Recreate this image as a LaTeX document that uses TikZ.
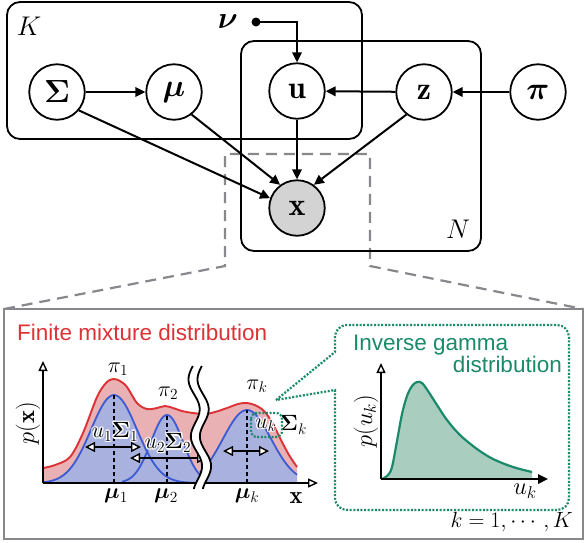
\RequirePackage{fix-cm}
\documentclass[tikz,border=0pt]{standalone}
\usepackage{amsmath,bm}
\usepackage{fontspec}
\newfontfamily\sansf{Liberation Sans}
\usetikzlibrary{arrows.meta,calc}
\definecolor{myred}{HTML}{DC3236}
\definecolor{pinkfill}{HTML}{E9B1B3}
\definecolor{myblue}{HTML}{3C5AD2}
\definecolor{bluefill}{HTML}{A9B2DE}
\definecolor{mygreen}{HTML}{1A8A6A}
\definecolor{greenfill}{HTML}{A9CDBF}
\definecolor{mygray}{HTML}{87878C}
\definecolor{xfill}{HTML}{D3D3D3}
\newcommand{\halo}[1]{%
\makebox[0pt][l]{\color{white}\hspace{-1.4pt}$#1$}%
\makebox[0pt][l]{\color{white}\hspace{1.4pt}$#1$}%
\makebox[0pt][l]{\color{white}\raisebox{1.4pt}{$#1$}}%
\makebox[0pt][l]{\color{white}\raisebox{-1.4pt}{$#1$}}%
\makebox[0pt][l]{\color{white}\hspace{1pt}\raisebox{1pt}{$#1$}}%
\makebox[0pt][l]{\color{white}\hspace{-1pt}\raisebox{1pt}{$#1$}}%
\makebox[0pt][l]{\color{white}\hspace{1pt}\raisebox{-1pt}{$#1$}}%
\makebox[0pt][l]{\color{white}\hspace{-1pt}\raisebox{-1pt}{$#1$}}%
$#1$}
\begin{document}
\begin{tikzpicture}[x=1pt,y=-1pt,
  vnode/.style={circle, draw, line width=1.8pt, fill=white, minimum size=55.5pt, inner sep=0pt, font=\fontsize{32}{32}\selectfont},
  edge/.style={line width=2pt, -{Triangle[length=10pt,width=9.5pt]}},
  plate/.style={draw, line width=1.8pt, rounded corners=13pt},
  lbl/.style={inner sep=0pt, font=\fontsize{22}{22}\selectfont},
  axlbl/.style={inner sep=0pt, font=\fontsize{24.5}{24.5}\selectfont},
  biglbl/.style={inner sep=0pt, font=\fontsize{27}{27}\selectfont},
  graydash/.style={draw=mygray, line width=2.2pt, dash pattern=on 11pt off 7pt},
  dblarrow/.style={line width=2pt, {Triangle[length=10pt,width=10pt,fill=white,line width=1.4pt]}-{Triangle[length=10pt,width=10pt,fill=white,line width=1.4pt]}},
  openaxis/.style={line width=1.8pt, -{Triangle[length=10pt,width=9pt,fill=white,line width=1.4pt]}},
  solidaxis/.style={line width=1.8pt, -{Triangle[length=10pt,width=9.5pt]}},
  greendot/.style={draw=mygreen, line width=2.2pt, dash pattern=on 2pt off 1.6pt},
  sanslbl/.style={inner sep=0pt, font=\sansf\fontsize{22.5}{22.5}\selectfont}
]
\useasboundingbox (0,0) rectangle (588,542);

% ---------- zoom connector (dashed) ----------
\draw[graydash] (4,309) -- (225,266) -- (225,154) -- (370,154) -- (370,266) -- (583,309);

% ---------- plates ----------
\draw[plate] (7,2) rectangle (362,139);
\draw[plate] (241,41) rectangle (481,251);
\node[biglbl] (Klbl) at (29,26) {$K$};
\node[biglbl] (Nlbl) at (458,229) {$N$};

% ---------- graph nodes ----------
\node[vnode] (S) at (57,92) {$\bm{\Sigma}$};
\node[vnode] (M) at (174,92) {$\bm{\mu}$};
\node[vnode] (U) at (297,91) {$\mathbf{u}$};
\node[vnode] (Z) at (424,92) {$\mathbf{z}$};
\node[vnode] (P) at (538,92) {$\bm{\pi}$};
\node[vnode, fill=xfill] (X) at (297,208) {$\mathbf{x}$};
\node[inner sep=0pt, font=\fontsize{31}{31}\selectfont] (nu) at (228,22) {$\bm{\nu}$};
\node[circle, fill, inner sep=0pt, minimum size=9pt] (nudot) at (256,22) {};

\draw[edge] (S) -- (M);
\draw[edge] (Z) -- (U);
\draw[edge] (P) -- (Z);
\draw[edge] (U) -- (X);
\draw[edge] (S.-40) -- (X.160);
\draw[edge] (M.-52) -- (X.126);
\draw[edge] (Z.-128) -- (X.54);
\draw[edge] (nudot.center) -| (U);

% ---------- bottom panel ----------
\draw[draw=mygray, line width=2.5pt] (4,309) rectangle (583,539);

\node[sanslbl, text=myred, anchor=base west] (title1) at (17,340) {Finite mixture distribution};

% mixture fill
\fill[pinkfill] plot[smooth, tension=0.55] coordinates {(43,468) (55,465) (70,457) (83,433) (97,397) (106,383) (113,379) (120,381) (127,387) (137,403) (147,409) (157,408) (165,406) (173,408) (182,411) (193,413) (205,414) (215,412) (227,408) (238,404) (247,403) (257,406) (265,412) (273,424) (281,440) (289,455) (297,467)} -- (297,483) -- (43,483) -- cycle;
% gaussian fills
\fill[bluefill] plot[domain=43:195, samples=70] (\x, {483-88*exp(-((\x-114)*(\x-114))/1058)}) -- (195,483) -- (43,483) -- cycle;
\fill[bluefill] plot[domain=122:205, samples=60] (\x, {483-68*exp(-((\x-167)*(\x-167))/512)}) -- (205,483) -- (122,483) -- cycle;
\fill[bluefill] plot[domain=200:297, samples=60] (\x, {483-73*exp(-((\x-247)*(\x-247))/1152)}) -- (297,483) -- (200,483) -- cycle;
% gaussian lines
\draw[myblue, line width=1.8pt] plot[domain=43:195, samples=70] (\x, {483-88*exp(-((\x-114)*(\x-114))/1058)});
\draw[myblue, line width=1.8pt] plot[domain=122:205, samples=60] (\x, {483-68*exp(-((\x-167)*(\x-167))/512)});
\draw[myblue, line width=1.8pt] plot[domain=200:297, samples=60] (\x, {483-73*exp(-((\x-247)*(\x-247))/1152)});
% mixture line
\draw[myred, line width=1.9pt] plot[smooth, tension=0.55] coordinates {(43,468) (55,465) (70,457) (83,433) (97,397) (106,383) (113,379) (120,381) (127,387) (137,403) (147,409) (157,408) (165,406) (173,408) (182,411) (193,413) (205,414) (215,412) (227,408) (238,404) (247,403) (257,406) (265,412) (273,424) (281,440) (289,455) (297,467)};
% mean lines
\draw[line width=1.1pt, dash pattern=on 4pt off 3pt] (114,483) -- (114,395);
\draw[line width=1.1pt, dash pattern=on 4pt off 3pt] (167,483) -- (167,415);
\draw[line width=1.1pt, dash pattern=on 4pt off 3pt] (247,483) -- (247,410);
% width arrows
\coordinate (a1l) at (85,447); \coordinate (a1r) at (141,447);
\coordinate (a2l) at (130,458); \coordinate (a2r) at (207,458);
\coordinate (akl) at (223,451); \coordinate (akr) at (269,451);
\draw[dblarrow] (a1l) -- (a1r);
\draw[dblarrow] (a2l) -- (a2r);
\draw[dblarrow] (akl) -- (akr);
% axes
\coordinate (O1) at (43,483);
\coordinate (Y1) at (43,361);
\coordinate (X1) at (318,483);
\draw[openaxis] (O1) -- (Y1);
\draw[openaxis] (O1) -- (X1);
% wavy break
\fill[white] plot[domain=366:489, samples=60] ({193+5*(\x-368)/120+5*sin(6.316*(\x-368)+194)}, \x) -- plot[domain=489:366, samples=60] ({202+5*(\x-368)/120+5*sin(6.316*(\x-368)+194)}, \x) -- cycle;
\draw[line width=1.8pt] plot[domain=366:489, samples=60] ({193+5*(\x-368)/120+5*sin(6.316*(\x-368)+194)}, \x);
\draw[line width=1.8pt] plot[domain=366:489, samples=60] ({202+5*(\x-368)/120+5*sin(6.316*(\x-368)+194)}, \x);
% labels
\node[axlbl, rotate=90] (px) at (28,423) {$p(\mathbf{x})$};
\node[axlbl] (xlab) at (296,498) {$\mathbf{x}$};
\node[lbl] (pi1) at (118,369) {$\pi_1$};
\node[lbl] (pi2) at (168,393) {$\pi_2$};
\node[lbl] (pik) at (257,386) {$\pi_k$};
\node[lbl] (mu1) at (116,496) {$\bm{\mu}_1$};
\node[lbl] (mu2) at (166,496) {$\bm{\mu}_2$};
\node[lbl] (muk) at (247,496) {$\bm{\mu}_k$};
\node[lbl] (us1) at (115,432) {\halo{u_1\bm{\Sigma}_1}};
\node[lbl] (us2) at (168,443) {\halo{u_2\bm{\Sigma}_2}};
\node[lbl] (uk) at (266,425) {\halo{u_k}};
\node[lbl, anchor=west] (Sk) at (280,425) {$\bm{\Sigma}_k$};
\draw[greendot, rounded corners=6pt] (251,413) rectangle (282,437);

% callout
\draw[greendot] (276,400) -- (335,352) [rounded corners=12pt] -- (335,325) -- (569,325) -- (569,510) -- (335,510) [sharp corners] -- (335,390) -- cycle;
\node[sanslbl, text=mygreen, anchor=base west] (ig1) at (353,350) {Inverse gamma};
\node[sanslbl, text=mygreen, anchor=base east] (ig2) at (562,372) {distribution};

% gamma plot
\fill[greenfill] plot[smooth, tension=0.55] coordinates {(382,479) (388,475) (392,467) (397,441) (402,414) (407,396) (412,386) (417,382) (422,383) (428,391) (437,405) (447,420) (460,435) (477,449) (493,459) (513,467) (532,472)} -- (532,479) -- cycle;
\draw[mygreen, line width=2.2pt] plot[smooth, tension=0.55] coordinates {(382,479) (388,475) (392,467) (397,441) (402,414) (407,396) (412,386) (417,382) (422,383) (428,391) (437,405) (447,420) (460,435) (477,449) (493,459) (513,467) (532,472)};
\coordinate (O2) at (381,479);
\coordinate (Y2) at (381,363);
\coordinate (X2) at (548,479);
\draw[openaxis] (O2) -- (Y2);
\draw[solidaxis] (O2) -- (X2);
\node[axlbl, rotate=90] (puk) at (366,421) {$p(u_k)$};
\node[axlbl] (ukax) at (525,491) {$u_k$};
\node[lbl, anchor=base east] (kK) at (573,527) {$k=1,\cdots,K$};
\end{tikzpicture}
\end{document}
